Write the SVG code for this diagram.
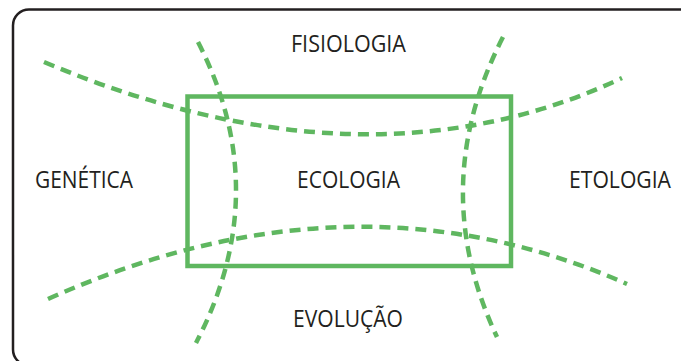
<svg xmlns="http://www.w3.org/2000/svg" width="681" height="361" viewBox="0 0 681 361">
<style>
.lbl{font-family:"Open Sans","Noto Sans","Liberation Sans",sans-serif;font-size:23px;fill:#231f20;}
.dash{fill:none;stroke:#5fb760;stroke-width:4.5;stroke-dasharray:11 7;}
</style>
<rect x="0" y="0" width="681" height="361" fill="#ffffff"/>
<rect id="frame" x="13" y="9.5" width="700" height="356" rx="16" fill="none" stroke="#231f20" stroke-width="2.5"/>
<g id="connectors">
<path class="dash" d="M44,62 Q367,198 622,78"/>
<path class="dash" d="M48,299 Q352.5,162.5 627,284"/>
<path class="dash" d="M198,42 Q275,191.5 196,343"/>
<path class="dash" d="M503,37 Q426,187 497,337"/>
</g>
<g id="ecologia">
<rect x="187.5" y="96.5" width="323.5" height="169.5" fill="none" stroke="#5fb760" stroke-width="4.5"/>
<text class="lbl" x="297" y="188" textLength="103" lengthAdjust="spacingAndGlyphs">ECOLOGIA</text>
</g>
<g id="fisiologia"><text class="lbl" x="291" y="52" textLength="115" lengthAdjust="spacingAndGlyphs">FISIOLOGIA</text></g>
<g id="genetica"><text class="lbl" x="35" y="188" textLength="98" lengthAdjust="spacingAndGlyphs">GENÉTICA</text></g>
<g id="etologia"><text class="lbl" x="569" y="188" textLength="102" lengthAdjust="spacingAndGlyphs">ETOLOGIA</text></g>
<g id="evolucao"><text class="lbl" x="293" y="327" textLength="110" lengthAdjust="spacingAndGlyphs">EVOLUÇÃO</text></g>
</svg>
